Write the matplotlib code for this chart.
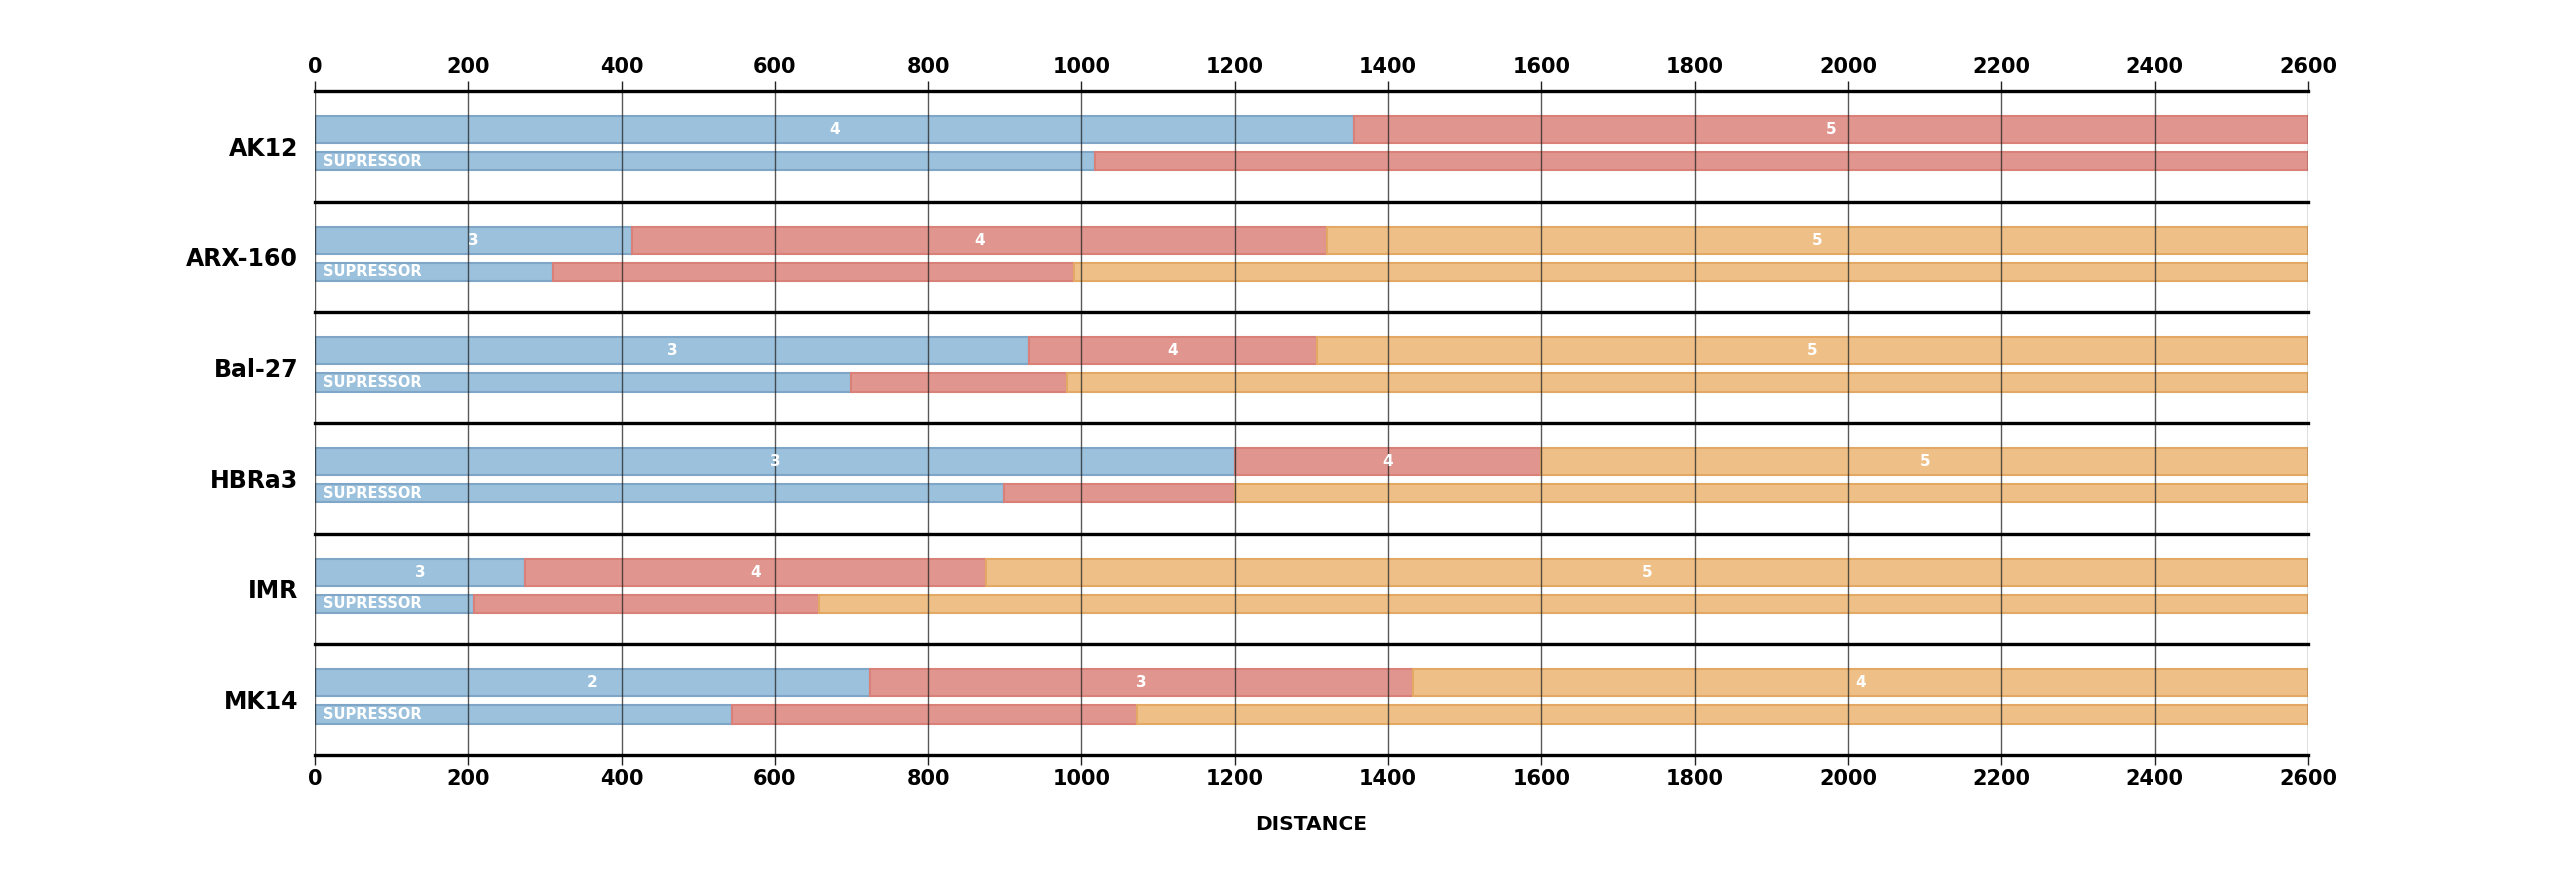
import matplotlib
matplotlib.use('Agg')
import matplotlib.pyplot as plt

# rifles, top to bottom
weapons = ['AK12', 'ARX-160', 'Bal-27', 'HBRa3', 'IMR', 'MK14']

# end distance of each band (no supressor)
ends_plain = [
    [1355, 2600],
    [414, 1320, 2600],
    [932, 1307, 2600],
    [1200, 1600, 2600],
    [274, 876, 2600],
    [724, 1432, 2600],
]
# shots to kill inside each band
shots_plain = [
    ['4', '5'],
    ['3', '4', '5'],
    ['3', '4', '5'],
    ['3', '4', '5'],
    ['3', '4', '5'],
    ['2', '3', '4'],
]
# end distance of each band (with supressor)
ends_supp = [
    [1017, 2600],
    [310, 990, 2600],
    [699, 981, 2600],
    [899, 1200, 2600],
    [207, 657, 2600],
    [544, 1073, 2600],
]

xticks = list(range(0, 2601, 200))

fill = ['#9bc1dc', '#e0968f', '#eec088']
edge = ['#7fa6c6', '#d98078', '#e3a864']

fig = plt.figure(figsize=(25.5, 8.73), dpi=100)
ax = fig.add_axes([0.1235, 0.1352, 0.7816, 0.7606])

def draw_row(ends, ymid, h, labels=None):
    left = 0
    for k, e in enumerate(ends):
        ax.barh(ymid, e - left, left=left, height=h, color=fill[k],
                edgecolor=edge[k], linewidth=1.5, zorder=2)
        if labels is not None:
            ax.text((left + e) / 2.0, ymid, labels[k], color='white',
                    fontsize=11, fontweight='bold', ha='center', va='center', zorder=4)
        left = e

for i in range(len(weapons)):
    draw_row(ends_plain[i], i + 0.348, 0.244, shots_plain[i])
    draw_row(ends_supp[i], i + 0.635, 0.165)
    ax.annotate('SUPRESSOR', xy=(0, i + 0.635), xytext=(6, 0),
                textcoords='offset points', color='white', fontsize=10.5,
                fontweight='bold', ha='left', va='center', zorder=4)

for j in range(len(weapons) + 1):
    ax.axhline(j, color='black', lw=2.4, zorder=5, clip_on=False)

ax.set_xlim(0, 2600)
ax.set_ylim(len(weapons), 0)
ax.set_xticks(xticks)
ax.set_xticklabels([str(t) for t in xticks], fontsize=15, fontweight='bold')
ax.set_yticks([i + 0.5 for i in range(len(weapons))])
ax.set_yticklabels(weapons, fontsize=17, fontweight='bold')
ax.tick_params(axis='x', top=True, labeltop=True, direction='out', length=7,
               width=1, color='#222222', pad=3)
ax.tick_params(axis='x', which='major', labeltop=True)
ax.tick_params(axis='y', length=0, pad=12)
ax.xaxis.grid(True, color='#222222', lw=1, alpha=0.75, zorder=3)
ax.set_axisbelow(False)
for s in ax.spines.values():
    s.set_visible(False)

ax.set_xlabel('DISTANCE', fontsize=14.5, fontweight='bold', labelpad=19)

fig.savefig('out.png', dpi=100)
